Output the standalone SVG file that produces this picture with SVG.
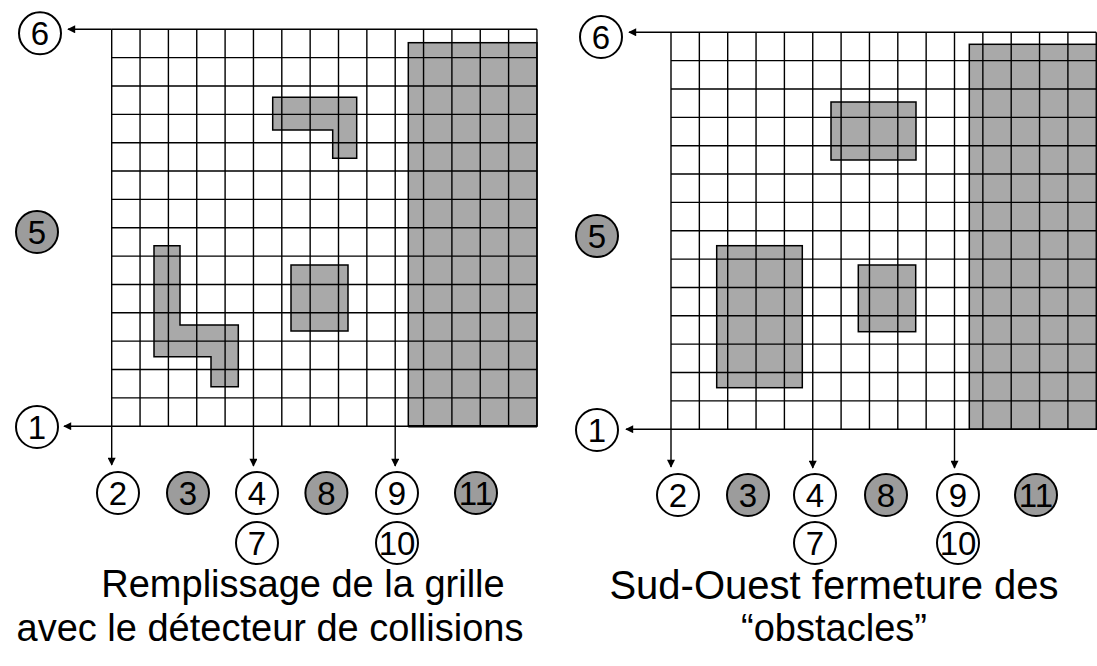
<svg xmlns="http://www.w3.org/2000/svg" width="1097" height="666" viewBox="0 0 1097 666">
<defs>
<style>
.grid{fill:none;stroke:#000;stroke-width:1.4}
.obs{fill:#a9a9a9;stroke:#000;stroke-width:1.5}
.c{fill:#fff;stroke:#000;stroke-width:2}
.cg{fill:#9c9c9c;stroke:#000;stroke-width:2}
.n{font-family:"Liberation Sans",Arial,sans-serif;font-size:33px;text-anchor:middle;fill:#000}
.cap{font-family:"Liberation Sans",Arial,sans-serif;font-size:38px;text-anchor:middle;fill:#000}
.ar{fill:none;stroke:#000;stroke-width:1.4}
</style>
<marker id="ah" viewBox="0 0 10 10" refX="9" refY="5" markerWidth="10" markerHeight="8" markerUnits="userSpaceOnUse" orient="auto">
<path d="M0,0 L10,5 L0,10 Z" fill="#000"/>
</marker>
</defs>
<rect width="1097" height="666" fill="#fff"/>

<g id="left-grid">
<path class="obs" d="M272.7,97.3 H356.7 V158.3 H332.7 V130 H272.7 Z"/>
<path class="obs" d="M154,245.7 H180 V325 H238.3 V386.7 H211 V356.7 H154 Z"/>
<rect class="obs" x="291" y="265" width="57" height="66"/>
<rect class="obs" x="408.3" y="42.7" width="128.7" height="383.5"/>
<path class="grid" d="M111.7,29.3V426.2M140.05,29.3V426.2M168.4,29.3V426.2M196.75,29.3V426.2M225.1,29.3V426.2M253.45,29.3V426.2M281.8,29.3V426.2M310.15,29.3V426.2M338.5,29.3V426.2M366.85,29.3V426.2M395.2,29.3V426.2M423.55,29.3V426.2M451.9,29.3V426.2M480.25,29.3V426.2M508.6,29.3V426.2M536.95,29.3V426.2
M111.7,29.3H536.95M111.7,57.65H536.95M111.7,86H536.95M111.7,114.35H536.95M111.7,142.7H536.95M111.7,171.05H536.95M111.7,199.4H536.95M111.7,227.75H536.95M111.7,256.1H536.95M111.7,284.45H536.95M111.7,312.8H536.95M111.7,341.15H536.95M111.7,369.5H536.95M111.7,397.85H536.95M111.7,426.2H536.95"/>
<line x1="408.3" y1="426.2" x2="537" y2="426.2" stroke="#000" stroke-width="2.6"/>
</g>

<g id="right-grid">
<rect class="obs" x="831" y="102" width="85" height="58"/>
<rect class="obs" x="716.7" y="245.7" width="85.6" height="142"/>
<rect class="obs" x="858.3" y="265" width="57.4" height="66.7"/>
<rect class="obs" x="969.3" y="44.3" width="130" height="384.9"/>
<path class="grid" d="M671,32.3V429.2M699.35,32.3V429.2M727.7,32.3V429.2M756.05,32.3V429.2M784.4,32.3V429.2M812.75,32.3V429.2M841.1,32.3V429.2M869.45,32.3V429.2M897.8,32.3V429.2M926.15,32.3V429.2M954.5,32.3V429.2M982.85,32.3V429.2M1011.2,32.3V429.2M1039.55,32.3V429.2M1067.9,32.3V429.2M1096.25,32.3V429.2
M671,32.3H1096.25M671,60.65H1096.25M671,89H1096.25M671,117.35H1096.25M671,145.7H1096.25M671,174.05H1096.25M671,202.4H1096.25M671,230.75H1096.25M671,259.1H1096.25M671,287.45H1096.25M671,315.8H1096.25M671,344.15H1096.25M671,372.5H1096.25M671,400.85H1096.25M671,429.2H1096.25"/>
</g>

<g id="connectors">
<line class="ar" x1="111.7" y1="29.3" x2="68" y2="29.3" marker-end="url(#ah)"/>
<line class="ar" x1="111.7" y1="426.2" x2="64" y2="426.2" marker-end="url(#ah)"/>
<line class="ar" x1="111.7" y1="426.2" x2="111.7" y2="465" marker-end="url(#ah)"/>
<line class="ar" x1="253.45" y1="426.2" x2="253.45" y2="466" marker-end="url(#ah)"/>
<line class="ar" x1="395.2" y1="426.2" x2="395.2" y2="466" marker-end="url(#ah)"/>
<line class="ar" x1="671" y1="32.3" x2="629" y2="32.3" marker-end="url(#ah)"/>
<line class="ar" x1="671" y1="429.2" x2="626" y2="429.2" marker-end="url(#ah)"/>
<line class="ar" x1="671" y1="429.2" x2="671" y2="467" marker-end="url(#ah)"/>
<line class="ar" x1="812.75" y1="429.2" x2="812.75" y2="468" marker-end="url(#ah)"/>
<line class="ar" x1="954.5" y1="429.2" x2="954.5" y2="468" marker-end="url(#ah)"/>
</g>

<g id="left-n6"><circle class="c" cx="40" cy="33.3" r="21"/><text class="n" x="40" y="45.1">6</text></g>
<g id="left-n5"><circle class="cg" cx="37" cy="232" r="21"/><text class="n" x="37" y="243.8">5</text></g>
<g id="left-n1"><circle class="c" cx="37" cy="427" r="21"/><text class="n" x="37" y="438.8">1</text></g>
<g id="left-n2"><circle class="c" cx="118" cy="493" r="21"/><text class="n" x="118" y="504.8">2</text></g>
<g id="left-n3"><circle class="cg" cx="188" cy="493" r="21"/><text class="n" x="188" y="504.8">3</text></g>
<g id="left-n4"><circle class="c" cx="257" cy="493" r="21"/><text class="n" x="257" y="504.8">4</text></g>
<g id="left-n8"><circle class="cg" cx="326.4" cy="493" r="21"/><text class="n" x="326.4" y="504.8">8</text></g>
<g id="left-n9"><circle class="c" cx="397" cy="493" r="21"/><text class="n" x="397" y="504.8">9</text></g>
<g id="left-n11"><circle class="cg" cx="476" cy="493" r="21"/><text class="n" x="476" y="504.8">11</text></g>
<g id="left-n7"><circle class="c" cx="257" cy="543" r="21"/><text class="n" x="257" y="554.8">7</text></g>
<g id="left-n10"><circle class="c" cx="397" cy="543" r="21"/><text class="n" x="397" y="554.8">10</text></g>

<g id="right-n6"><circle class="c" cx="601" cy="37" r="21"/><text class="n" x="601" y="48.8">6</text></g>
<g id="right-n5"><circle class="cg" cx="597" cy="236" r="21"/><text class="n" x="597" y="247.8">5</text></g>
<g id="right-n1"><circle class="c" cx="597" cy="430" r="21"/><text class="n" x="597" y="441.8">1</text></g>
<g id="right-n2"><circle class="c" cx="678" cy="495" r="21"/><text class="n" x="678" y="506.8">2</text></g>
<g id="right-n3"><circle class="cg" cx="748" cy="495" r="21"/><text class="n" x="748" y="506.8">3</text></g>
<g id="right-n4"><circle class="c" cx="815" cy="495" r="21"/><text class="n" x="815" y="506.8">4</text></g>
<g id="right-n8"><circle class="cg" cx="886" cy="495" r="21"/><text class="n" x="886" y="506.8">8</text></g>
<g id="right-n9"><circle class="c" cx="958" cy="495" r="21"/><text class="n" x="958" y="506.8">9</text></g>
<g id="right-n11"><circle class="cg" cx="1036" cy="495" r="21"/><text class="n" x="1036" y="506.8">11</text></g>
<g id="right-n7"><circle class="c" cx="815" cy="543" r="21"/><text class="n" x="815" y="554.8">7</text></g>
<g id="right-n10"><circle class="c" cx="958" cy="543" r="21"/><text class="n" x="958" y="554.8">10</text></g>

<g id="captions">
<text class="cap" x="303" y="597">Remplissage de la grille</text>
<text class="cap" x="270" y="641">avec le détecteur de collisions</text>
<text class="cap" x="834" y="599" style="font-size:40px">Sud-Ouest fermeture des</text>
<text class="cap" x="834" y="641">“obstacles”</text>
</g>
</svg>
